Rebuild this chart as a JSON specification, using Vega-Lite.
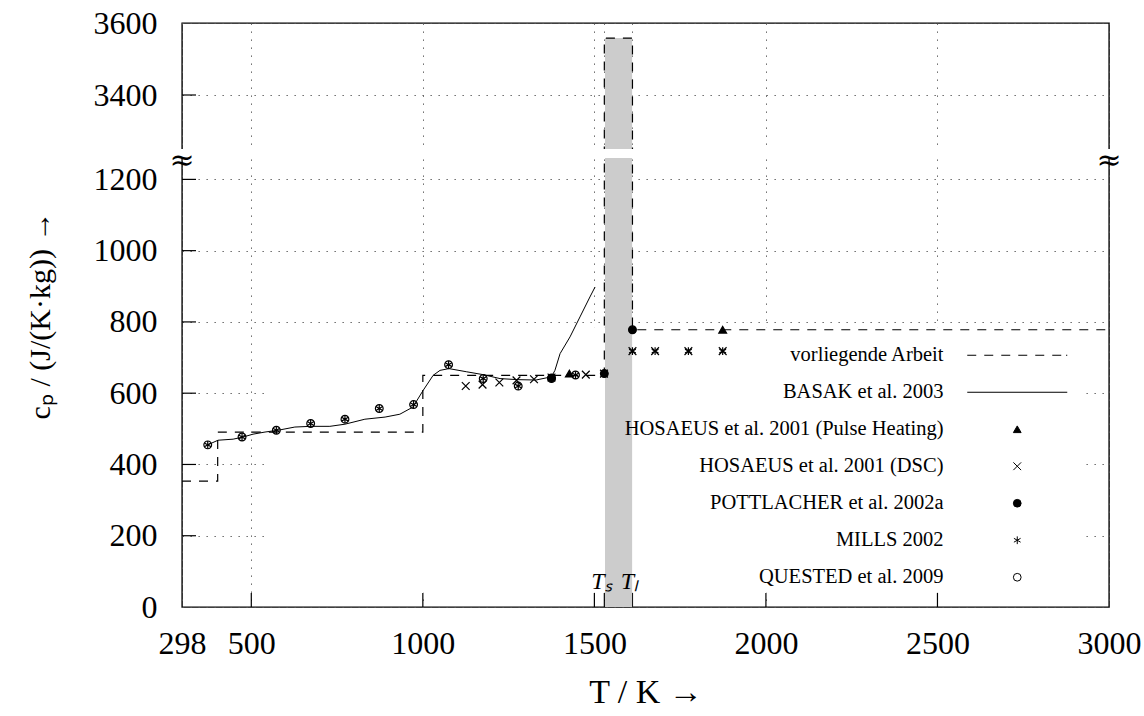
{
  "$schema": "https://vega.github.io/schema/vega-lite/v6.json",
  "width": 927,
  "height": 584,
  "autosize": {"type": "none"},
  "padding": {"left": 182, "top": 23, "right": 35, "bottom": 109},
  "config": {
    "font": "Liberation Serif",
    "view": {"stroke": "black", "strokeWidth": 1.4},
    "axis": {
      "labelFont": "Liberation Serif",
      "labelFontSize": 32,
      "labelColor": "black",
      "titleFont": "Liberation Serif",
      "titleColor": "black",
      "titleFontWeight": "normal",
      "grid": true,
      "gridColor": "#555555",
      "gridDash": [1.3, 6.7],
      "gridWidth": 1,
      "ticks": false,
      "tickSize": 0,
      "domain": false,
      "labelOverlap": false,
      "labelFlush": false
    },
    "legend": {
      "labelFont": "Liberation Serif",
      "labelFontSize": 20.5,
      "labelColor": "black",
      "labelLimit": 0,
      "symbolStrokeColor": "black",
      "symbolStrokeWidth": 1
    }
  },
  "datasets": {
    "step": [
      {"T": 298, "cp": 353}, {"T": 402, "cp": 353}, {"T": 402, "cp": 491},
      {"T": 1000, "cp": 491}, {"T": 1000, "cp": 650}, {"T": 1529, "cp": 650},
      {"T": 1529, "cp": 3558}, {"T": 1611, "cp": 3558}, {"T": 1611, "cp": 778},
      {"T": 3000, "cp": 778}
    ],
    "basak": [
      {"T": 373, "cp": 455}, {"T": 403, "cp": 468}, {"T": 447, "cp": 471}, {"T": 476, "cp": 477},
      {"T": 505, "cp": 485}, {"T": 540, "cp": 491}, {"T": 578, "cp": 496}, {"T": 627, "cp": 505},
      {"T": 674, "cp": 507}, {"T": 729, "cp": 507}, {"T": 773, "cp": 513}, {"T": 831, "cp": 527},
      {"T": 890, "cp": 533}, {"T": 933, "cp": 541}, {"T": 971, "cp": 561}, {"T": 1001, "cp": 608},
      {"T": 1030, "cp": 650}, {"T": 1050, "cp": 664}, {"T": 1076, "cp": 669}, {"T": 1128, "cp": 660},
      {"T": 1176, "cp": 652}, {"T": 1225, "cp": 641}, {"T": 1275, "cp": 638}, {"T": 1330, "cp": 637},
      {"T": 1375, "cp": 646}, {"T": 1385, "cp": 664}, {"T": 1400, "cp": 711}, {"T": 1429, "cp": 758},
      {"T": 1458, "cp": 814}, {"T": 1487, "cp": 870}, {"T": 1502, "cp": 898}
    ],
    "points": [
      {"series": "QUESTED et al. 2009", "T": 373, "cp": 455},
      {"series": "QUESTED et al. 2009", "T": 473, "cp": 477},
      {"series": "QUESTED et al. 2009", "T": 573, "cp": 496},
      {"series": "QUESTED et al. 2009", "T": 673, "cp": 515},
      {"series": "QUESTED et al. 2009", "T": 773, "cp": 527},
      {"series": "QUESTED et al. 2009", "T": 873, "cp": 557},
      {"series": "QUESTED et al. 2009", "T": 973, "cp": 568},
      {"series": "QUESTED et al. 2009", "T": 1075, "cp": 680},
      {"series": "QUESTED et al. 2009", "T": 1176, "cp": 641},
      {"series": "QUESTED et al. 2009", "T": 1278, "cp": 620},
      {"series": "QUESTED et al. 2009", "T": 1375, "cp": 641},
      {"series": "QUESTED et al. 2009", "T": 1445, "cp": 651},
      {"series": "MILLS 2002", "T": 373, "cp": 455},
      {"series": "MILLS 2002", "T": 473, "cp": 477},
      {"series": "MILLS 2002", "T": 573, "cp": 496},
      {"series": "MILLS 2002", "T": 673, "cp": 515},
      {"series": "MILLS 2002", "T": 773, "cp": 527},
      {"series": "MILLS 2002", "T": 873, "cp": 557},
      {"series": "MILLS 2002", "T": 973, "cp": 568},
      {"series": "MILLS 2002", "T": 1075, "cp": 680},
      {"series": "MILLS 2002", "T": 1176, "cp": 641},
      {"series": "MILLS 2002", "T": 1278, "cp": 620},
      {"series": "MILLS 2002", "T": 1375, "cp": 641},
      {"series": "MILLS 2002", "T": 1445, "cp": 651},
      {"series": "MILLS 2002", "T": 1611, "cp": 718},
      {"series": "MILLS 2002", "T": 1677, "cp": 718},
      {"series": "MILLS 2002", "T": 1774, "cp": 718},
      {"series": "MILLS 2002", "T": 1874, "cp": 718},
      {"series": "HOSAEUS et al. 2001 (DSC)", "T": 1125, "cp": 620},
      {"series": "HOSAEUS et al. 2001 (DSC)", "T": 1174, "cp": 624},
      {"series": "HOSAEUS et al. 2001 (DSC)", "T": 1223, "cp": 630},
      {"series": "HOSAEUS et al. 2001 (DSC)", "T": 1273, "cp": 636},
      {"series": "HOSAEUS et al. 2001 (DSC)", "T": 1324, "cp": 639},
      {"series": "HOSAEUS et al. 2001 (DSC)", "T": 1375, "cp": 644},
      {"series": "HOSAEUS et al. 2001 (DSC)", "T": 1475, "cp": 652},
      {"series": "HOSAEUS et al. 2001 (DSC)", "T": 1528, "cp": 655},
      {"series": "HOSAEUS et al. 2001 (DSC)", "T": 1611, "cp": 718},
      {"series": "HOSAEUS et al. 2001 (DSC)", "T": 1677, "cp": 718},
      {"series": "HOSAEUS et al. 2001 (DSC)", "T": 1774, "cp": 718},
      {"series": "HOSAEUS et al. 2001 (DSC)", "T": 1874, "cp": 718},
      {"series": "HOSAEUS et al. 2001 (Pulse Heating)", "T": 1427, "cp": 655},
      {"series": "HOSAEUS et al. 2001 (Pulse Heating)", "T": 1874, "cp": 778},
      {"series": "POTTLACHER et al. 2002a", "T": 1375, "cp": 643},
      {"series": "POTTLACHER et al. 2002a", "T": 1529, "cp": 655},
      {"series": "POTTLACHER et al. 2002a", "T": 1611, "cp": 778}
    ],
    "band": [
      {"T": 1531, "T2": 1610, "cp": 0, "cp2": 1260},
      {"T": 1531, "T2": 1610, "cp": 3250, "cp2": 3558}
    ],
    "tlabels": [
      {"label": "Tₛ", "T": 1529},
      {"label": "Tₗ", "T": 1611}
    ],
    "xticks": [
      {"T": 500}, {"T": 1000}, {"T": 1500}, {"T": 1529}, {"T": 1611}, {"T": 2000}, {"T": 2500}
    ],
    "yticks": [
      {"cp": 200}, {"cp": 400}, {"cp": 600}, {"cp": 800}, {"cp": 1000}, {"cp": 1200}, {"cp": 3400}
    ],
    "one": [{}]
  },
  "layer": [
    {
      "data": {"name": "one"},
      "mark": {"type": "rect", "fill": "white"},
      "encoding": {
        "x": {
          "datum": 546,
          "type": "quantitative",
          "scale": {"domain": [298, 3000], "nice": false, "zero": false},
          "axis": {
            "values": [298, 500, 1000, 1500, 2000, 2500, 3000, 1529, 1611],
            "labelExpr": "(datum.value == 1529 || datum.value == 1611) ? '' : datum.label",
            "format": "d",
            "labelPadding": 21,
            "title": "T / K →",
            "titleFontSize": 34,
            "titlePadding": 16
          }
        },
        "x2": {"datum": 2930},
        "y": {
          "datum": 40,
          "type": "quantitative",
          "scale": {"domain": [0, 1260, 3250, 3600], "range": [584, 135, 126, 0], "nice": false, "zero": false},
          "axis": {
            "values": [0, 200, 400, 600, 800, 1000, 1200, 3400, 3600],
            "format": "d",
            "labelPadding": 25,
            "title": "cₚ / (J/(K·kg)) →",
            "titleFontSize": 30,
            "titlePadding": 38
          }
        },
        "y2": {"datum": 785}
      }
    },
    {
      "data": {"name": "xticks"},
      "mark": {"type": "rule", "stroke": "black", "strokeWidth": 1.2},
      "encoding": {
        "x": {"field": "T", "type": "quantitative"},
        "y": {"datum": 0, "type": "quantitative"},
        "y2": {"datum": 39.3}
      }
    },
    {
      "data": {"name": "yticks"},
      "mark": {"type": "rule", "stroke": "black", "strokeWidth": 1.2},
      "encoding": {
        "y": {"field": "cp", "type": "quantitative"},
        "x": {"datum": 298, "type": "quantitative"},
        "x2": {"datum": 338.8}
      }
    },
    {
      "data": {"name": "band"},
      "mark": {"type": "rect", "fill": "#cccccc"},
      "encoding": {
        "x": {"field": "T", "type": "quantitative"},
        "x2": {"field": "T2"},
        "y": {"field": "cp", "type": "quantitative"},
        "y2": {"field": "cp2"}
      }
    },
    {
      "data": {"name": "step"},
      "mark": {"type": "line", "stroke": "black", "strokeWidth": 1.2, "strokeDash": [9, 8]},
      "encoding": {
        "x": {"field": "T", "type": "quantitative"},
        "y": {"field": "cp", "type": "quantitative"}
      }
    },
    {
      "data": {"name": "basak"},
      "mark": {"type": "line", "stroke": "black", "strokeWidth": 1},
      "encoding": {
        "x": {"field": "T", "type": "quantitative"},
        "y": {"field": "cp", "type": "quantitative"}
      }
    },
    {
      "data": {"name": "points"},
      "mark": {"type": "point", "strokeWidth": 1.2, "opacity": 1},
      "encoding": {
        "x": {"field": "T", "type": "quantitative"},
        "y": {"field": "cp", "type": "quantitative"},
        "shape": {
          "field": "series",
          "type": "nominal",
          "scale": {
            "domain": ["vorliegende Arbeit", "BASAK et al. 2003", "HOSAEUS et al. 2001 (Pulse Heating)", "HOSAEUS et al. 2001 (DSC)", "POTTLACHER et al. 2002a", "MILLS 2002", "QUESTED et al. 2009"],
            "range": [
              "M-12.91,0H-10.59M-8.52,0H-6.2M-4.13,0H-1.81M0.26,0H2.58M4.65,0H6.97M9.04,0H11.36M12.6,0H12.91",
              "M-12.91,0H12.91",
              "triangle-up",
              "M-1,-1L1,1M-1,1L1,-1",
              "circle",
              "M0,-1V1M-0.866,-0.5L0.866,0.5M-0.866,0.5L0.866,-0.5",
              "circle"
            ]
          },
          "legend": {
            "orient": "none",
            "legendX": 825,
            "legendY": 322,
            "title": null,
            "padding": 0,
            "labelAlign": "right",
            "labelOffset": -84,
            "rowPadding": 16
          }
        },
        "size": {
          "field": "series",
          "type": "nominal",
          "scale": {
            "domain": ["vorliegende Arbeit", "BASAK et al. 2003", "HOSAEUS et al. 2001 (Pulse Heating)", "HOSAEUS et al. 2001 (DSC)", "POTTLACHER et al. 2002a", "MILLS 2002", "QUESTED et al. 2009"],
            "range": [60, 60, 64, 64, 40, 100, 100]
          },
          "legend": {
            "orient": "none",
            "legendX": 825,
            "legendY": 322,
            "title": null,
            "padding": 0,
            "labelAlign": "right",
            "labelOffset": -84,
            "rowPadding": 16
          }
        },
        "fill": {
          "field": "series",
          "type": "nominal",
          "scale": {
            "domain": ["vorliegende Arbeit", "BASAK et al. 2003", "HOSAEUS et al. 2001 (Pulse Heating)", "HOSAEUS et al. 2001 (DSC)", "POTTLACHER et al. 2002a", "MILLS 2002", "QUESTED et al. 2009"],
            "range": ["transparent", "transparent", "black", "transparent", "black", "transparent", "transparent"]
          },
          "legend": {
            "orient": "none",
            "legendX": 825,
            "legendY": 322,
            "title": null,
            "padding": 0,
            "labelAlign": "right",
            "labelOffset": -84,
            "rowPadding": 16
          }
        },
        "stroke": {
          "field": "series",
          "type": "nominal",
          "scale": {
            "domain": ["vorliegende Arbeit", "BASAK et al. 2003", "HOSAEUS et al. 2001 (Pulse Heating)", "HOSAEUS et al. 2001 (DSC)", "POTTLACHER et al. 2002a", "MILLS 2002", "QUESTED et al. 2009"],
            "range": ["black", "black", "black", "black", "black", "black", "black"]
          },
          "legend": {
            "orient": "none",
            "legendX": 825,
            "legendY": 322,
            "title": null,
            "padding": 0,
            "labelAlign": "right",
            "labelOffset": -84,
            "rowPadding": 16
          }
        }
      }
    },
    {
      "data": {"name": "one"},
      "mark": {"type": "rect", "fill": "white"},
      "encoding": {
        "x": {"datum": 250, "type": "quantitative"},
        "x2": {"datum": 3050},
        "y": {"datum": 1260, "type": "quantitative"},
        "y2": {"datum": 3250}
      }
    },
    {
      "data": {"name": "one"},
      "mark": {"type": "text", "text": "≈", "fontSize": 30, "baseline": "middle", "align": "center", "font": "DejaVu Serif"},
      "encoding": {"x": {"datum": 298, "type": "quantitative"}, "y": {"datum": 1252, "type": "quantitative"}}
    },
    {
      "data": {"name": "one"},
      "mark": {"type": "text", "text": "≈", "fontSize": 30, "baseline": "middle", "align": "center", "font": "DejaVu Serif"},
      "encoding": {"x": {"datum": 3000, "type": "quantitative"}, "y": {"datum": 1252, "type": "quantitative"}}
    },
    {
      "data": {"name": "tlabels"},
      "mark": {"type": "text", "fontSize": 24, "fontStyle": "italic", "baseline": "alphabetic", "align": "center", "dx": -3},
      "encoding": {
        "x": {"field": "T", "type": "quantitative"},
        "text": {"field": "label", "type": "nominal"},
        "y": {"datum": 50, "type": "quantitative"}
      }
    }
  ]
}
